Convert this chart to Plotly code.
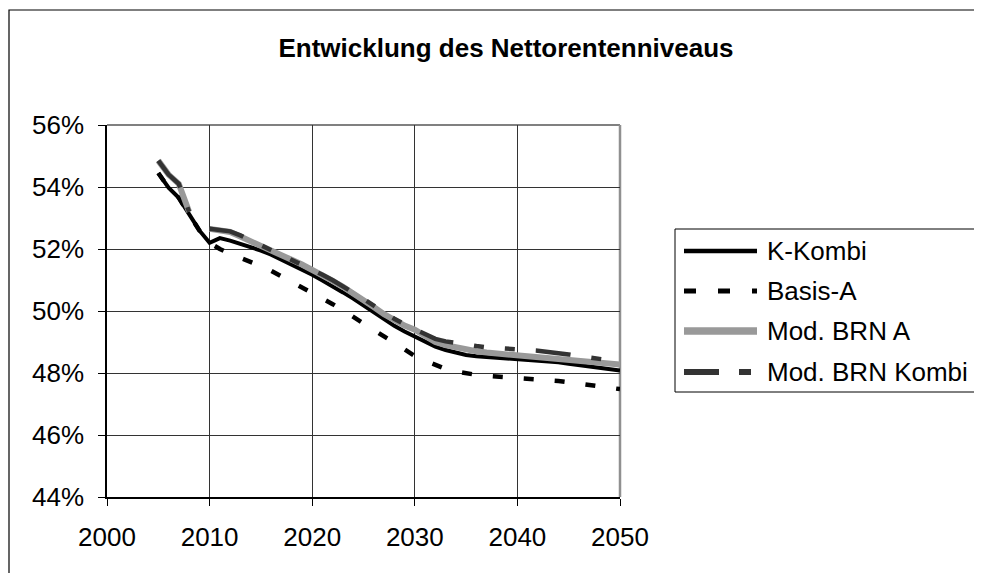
import plotly.graph_objects as go

years = list(range(2005, 2051))

# K-Kombi (solid black)
k_kombi = [54.45, 53.98, 53.65, 53.10, 52.60, 52.20, 52.35, 52.27, 52.17, 52.07,
           51.95, 51.82, 51.66, 51.50, 51.34, 51.17, 50.98, 50.80, 50.60, 50.40,
           50.18, 49.95, 49.73, 49.52, 49.34, 49.18, 49.00, 48.85, 48.74, 48.65,
           48.58, 48.54, 48.52, 48.50, 48.48, 48.46, 48.44, 48.41, 48.38, 48.35,
           48.30, 48.25, 48.20, 48.16, 48.12, 48.08]

# Basis-A (black dashes)
basis_a = [54.45, 53.98, 53.65, 53.10, 52.60, 52.20, 52.00, 51.85, 51.72, 51.60,
           51.45, 51.30, 51.12, 50.95, 50.80, 50.60, 50.42, 50.22, 50.02, 49.80,
           49.60, 49.38, 49.18, 48.98, 48.75, 48.55, 48.40, 48.25, 48.13, 48.05,
           47.99, 47.94, 47.91, 47.89, 47.86, 47.84, 47.83, 47.80, 47.77, 47.74,
           47.70, 47.66, 47.63, 47.58, 47.53, 47.48]

# Mod. BRN A (light grey)
brn_a = [54.85, 54.40, 54.10, 53.20, None, 52.65, 52.62, 52.55, 52.40, 52.24,
         52.10, 51.95, 51.80, 51.65, 51.50, 51.34, 51.15, 50.97, 50.78, 50.58,
         50.36, 50.13, 49.90, 49.70, 49.53, 49.40, 49.20, 49.00, 48.90, 48.82,
         48.75, 48.70, 48.66, 48.63, 48.60, 48.57, 48.55, 48.52, 48.49, 48.46,
         48.42, 48.39, 48.36, 48.33, 48.30, 48.27]

# Mod. BRN Kombi (dark grey, long-short-short)
brn_kombi = [54.85, 54.40, 54.10, 53.20, None, 52.65, 52.62, 52.57, 52.44, 52.28,
             52.13, 51.98, 51.83, 51.68, 51.52, 51.35, 51.17, 50.99, 50.80, 50.60,
             50.39, 50.17, 49.95, 49.75, 49.57, 49.42, 49.25, 49.10, 49.02, 48.96,
             48.91, 48.87, 48.83, 48.80, 48.77, 48.75, 48.74, 48.72, 48.69, 48.66,
             48.60, 48.55, 48.51, 48.46, 48.41, 48.36]

names = ["K-Kombi", "Basis-A", "Mod. BRN A", "Mod. BRN Kombi"]
x_ticks = [2000, 2010, 2020, 2030, 2040, 2050]
y_ticks = [44, 46, 48, 50, 52, 54, 56]
y_labels = [f"{v}%" for v in y_ticks]

FONT = "Liberation Sans, Arial, sans-serif"
W, H = 982, 573
OFF = 8  # page body margin
# plot area in page pixels: x 107..620, y 125..497
L, T = 107 - OFF, 125 - OFF
PW, PH = 513, 372
R, B = W - L - PW, H - T - PH


def px(x):
    return (x - OFF - L) / PW


def py(y):
    return (T + PH - (y - OFF)) / PH


styles = [
    dict(color="#000000", width=4, dash="solid"),
    dict(color="#000000", width=4.5, dash="10px,21px"),
    dict(color="#999999", width=6, dash="solid"),
    dict(color="#333333", width=4.5, dash="35px,21px,10px,21px,10px,21px"),
]
series = [k_kombi, basis_a, brn_a, brn_kombi]

fig = go.Figure()
for name, vals, st in zip(names, series, styles):
    fig.add_trace(go.Scatter(x=years, y=vals, mode="lines", name=name,
                             line=st, connectgaps=False, showlegend=False))

# outer chart border (runs off the picture to the right and bottom)
fig.add_shape(type="rect", xref="paper", yref="paper",
              x0=px(9), x1=px(1200), y0=py(800), y1=py(10),
              line=dict(color="#000000", width=1.2), layer="below")
# grey plot-area border on top/right
fig.add_shape(type="line", xref="paper", yref="paper", x0=0, x1=1, y0=1, y1=1,
              line=dict(color="#808080", width=2), layer="below")
fig.add_shape(type="line", xref="paper", yref="paper", x0=1, x1=1, y0=0, y1=1,
              line=dict(color="#909090", width=2.5), layer="below")

# legend box, drawn by hand to get the long samples
fig.add_shape(type="rect", xref="paper", yref="paper",
              x0=px(675), x1=px(1100), y0=py(392), y1=py(229),
              line=dict(color="#000000", width=1), fillcolor="white", layer="above")
leg_rows = [251, 291, 331, 372]
leg_styles = [
    dict(color="#000000", width=4.5, dash="solid"),
    dict(color="#000000", width=5, dash="12px,22px"),
    dict(color="#999999", width=7.5, dash="solid"),
    dict(color="#333333", width=6, dash="35px,20px,12px,20px"),
]
for name, yy, st in zip(names, leg_rows, leg_styles):
    fig.add_shape(type="line", xref="paper", yref="paper",
                  x0=px(684), x1=px(757), y0=py(yy), y1=py(yy),
                  line=st, layer="above")
    fig.add_annotation(text=name, xref="paper", yref="paper",
                       x=px(765), y=py(yy), xanchor="left", yanchor="middle",
                       showarrow=False, font=dict(family=FONT, size=26, color="#000000"))

fig.update_layout(
    width=W, height=H,
    margin=dict(l=L, r=R, t=T, b=B),
    paper_bgcolor="white", plot_bgcolor="white",
    font=dict(family=FONT, size=26, color="#000000"),
    title=dict(text="<b>Entwicklung des Nettorentenniveaus</b>",
               font=dict(family=FONT, size=26, color="#000000"),
               xref="paper", x=px(506), xanchor="center",
               yref="container", y=1 - (48 - OFF) / H, yanchor="middle"),
)
fig.update_xaxes(range=[2000, 2050], tickvals=x_ticks, showgrid=True,
                 gridcolor="#333333", gridwidth=1, showline=True, linecolor="#000000",
                 linewidth=1.5, ticks="outside", ticklen=7, tickcolor="#000000",
                 ticklabelstandoff=9, zeroline=False)
fig.update_yaxes(range=[44, 56], tickvals=y_ticks, ticktext=y_labels, showgrid=True,
                 gridcolor="#333333", gridwidth=1, showline=True, linecolor="#000000",
                 linewidth=1.5, ticks="outside", ticklen=7, tickcolor="#000000",
                 ticklabelstandoff=9, zeroline=False)

fig.write_html("out.html")
